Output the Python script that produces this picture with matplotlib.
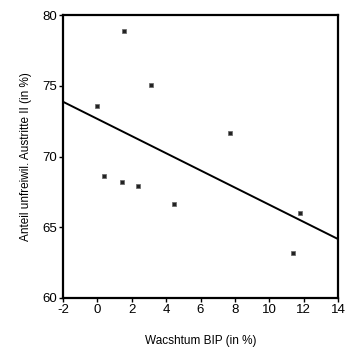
import matplotlib
matplotlib.use("Agg")
import matplotlib.pyplot as plt
import numpy as np

# Data
wachstum = [0.0, 1.57, 3.14, 7.69, 0.39, 1.45, 2.39, 4.47, 11.8, 11.37]
anteil = [73.6, 78.9, 75.05, 71.63, 68.6, 68.2, 67.94, 66.61, 65.99, 63.2]
x_ticks = [-2, 0, 2, 4, 6, 8, 10, 12, 14]
y_ticks = [60, 65, 70, 75, 80]

plt.rcParams['font.family'] = ['Liberation Sans', 'DejaVu Sans']
plt.rcParams['axes.unicode_minus'] = False

fig = plt.figure(figsize=(3.45, 3.47), dpi=100)
ax = fig.add_axes([63 / 345, 1 - 298 / 347, 275 / 345, 283 / 347])

# regression line
slope, intercept = np.polyfit(wachstum, anteil, 1)
xl = np.array([-2, 14])
ax.plot(xl, intercept + slope * xl, color='black', linewidth=1.4)

ax.scatter(wachstum, anteil, marker='s', s=10, color='#222222',
           edgecolors='#666666', linewidths=0.5, zorder=3)

ax.set_xlim(-2, 14)
ax.set_ylim(60, 80)
ax.set_xticks(x_ticks)
ax.set_yticks(y_ticks)
ax.tick_params(axis='both', labelsize=9.5, length=3, width=1, pad=1, colors='black')
for s in ax.spines.values():
    s.set_linewidth(1.6)

ax.set_xlabel('Wacshtum BIP (in %)', fontsize=8.5, labelpad=14)
ax.set_ylabel('Anteil unfreiwil. Austritte II (in %)', fontsize=8.5, labelpad=8)

plt.savefig('out.png', dpi=100)
